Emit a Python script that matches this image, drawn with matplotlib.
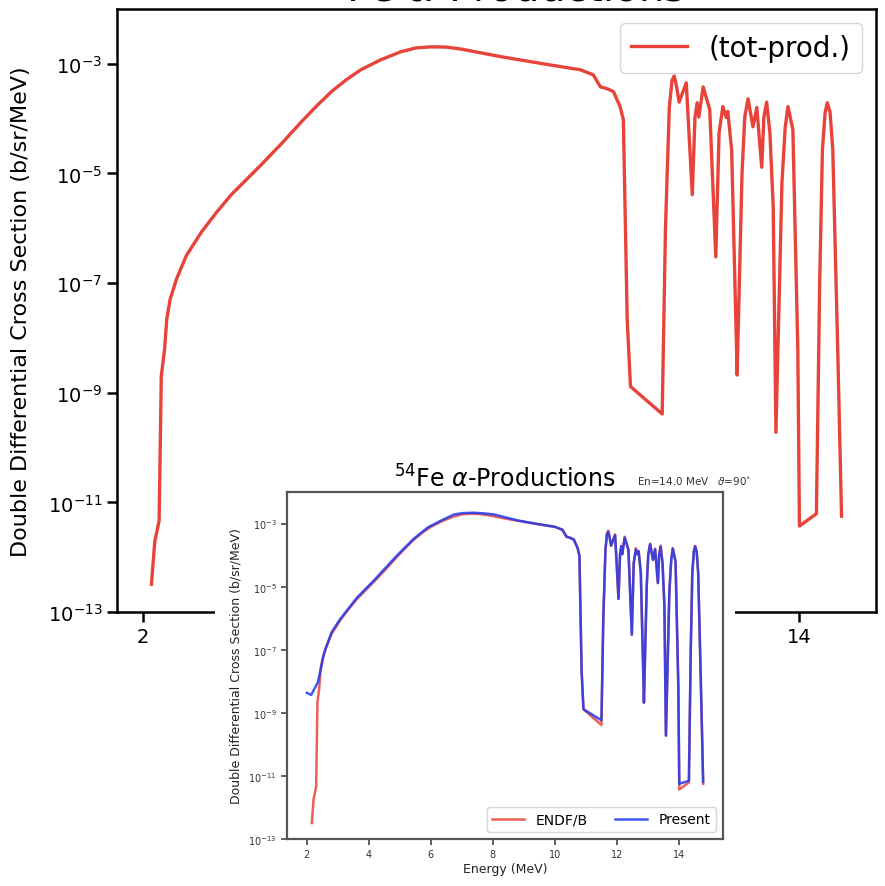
import matplotlib
matplotlib.use('Agg')
import matplotlib.pyplot as plt
from matplotlib.patches import Rectangle

# ---------------- data ----------------
energy_endf = [2.16, 2.22, 2.30, 2.32, 2.34, 2.40, 2.44, 2.50, 2.62, 2.80, 3.08, 3.35,
               3.62, 3.90, 4.17, 4.55, 4.90, 5.18, 5.45, 5.72, 5.99, 6.35, 6.72, 7.00,
               7.27, 7.55, 7.82, 8.55, 9.46, 10.00, 10.24, 10.37, 10.50, 10.61, 10.73,
               10.79, 10.86, 10.92, 11.50, 11.56, 11.63, 11.68, 11.72, 11.76, 11.81,
               11.94, 11.99, 12.05, 12.10, 12.14, 12.17, 12.25, 12.37, 12.48, 12.54,
               12.61, 12.67, 12.70, 12.77, 12.86, 12.87, 12.96, 13.01, 13.07, 13.16,
               13.23, 13.32, 13.36, 13.41, 13.47, 13.53, 13.58, 13.69, 13.75, 13.80,
               13.89, 13.98, 14.01, 14.32, 14.38, 14.43, 14.48, 14.52, 14.57, 14.62,
               14.71, 14.78]
xs_endf = [3.2e-13, 1.9e-12, 4.6e-12, 9.3e-11, 2.0e-9, 6.2e-9, 2.2e-8, 5.0e-8, 1.2e-7,
           3.2e-7, 8.7e-7, 1.95e-6, 4.1e-6, 7.8e-6, 1.45e-5, 3.6e-5, 8.7e-5, 1.7e-4,
           3.1e-4, 5.1e-4, 7.8e-4, 1.18e-3, 1.66e-3, 1.95e-3, 2.04e-3, 2.02e-3, 1.86e-3,
           1.35e-3, 9.5e-4, 7.8e-4, 6.3e-4, 3.8e-4, 3.5e-4, 3.1e-4, 1.66e-4, 9.5e-5,
           2.2e-8, 1.3e-9, 4.1e-10, 1.0e-6, 1.6e-4, 5.0e-4, 6.0e-4, 4.0e-4, 2.0e-4,
           4.5e-4, 5.5e-5, 4.1e-6, 1.07e-4, 1.95e-4, 1.07e-4, 3.8e-4, 1.45e-4, 3.0e-7,
           5.5e-5, 1.66e-4, 1.05e-4, 1.35e-4, 2.7e-5, 6.2e-9, 2.1e-9, 1.0e-5, 1.07e-4,
           2.3e-4, 7.1e-5, 1.6e-4, 1.3e-5, 1.07e-4, 2.0e-4, 5.5e-5, 2.5e-6, 1.9e-10,
           6.8e-6, 7.0e-5, 1.66e-4, 6.3e-5, 6.2e-9, 3.7e-12, 6.2e-12, 1.0e-7, 2.7e-5,
           1.3e-4, 1.95e-4, 1.3e-4, 2.7e-5, 6.2e-9, 5.6e-12]

energy_present = [2.00, 2.14, 2.36, 2.56, 2.80, 3.08, 3.62, 4.17, 4.90, 5.45, 5.90, 6.30,
                  6.75, 7.05, 7.39, 7.70, 8.03, 8.79, 9.46, 10.00, 10.24, 10.37, 10.50,
                  10.61, 10.73, 10.79, 10.86, 10.92, 11.50, 11.56, 11.63, 11.68, 11.72,
                  11.76, 11.81, 11.94, 11.99, 12.05, 12.10, 12.14, 12.17, 12.25, 12.37,
                  12.48, 12.54, 12.61, 12.67, 12.70, 12.77, 12.86, 12.87, 12.96, 13.01,
                  13.07, 13.16, 13.23, 13.32, 13.36, 13.41, 13.47, 13.53, 13.58, 13.69,
                  13.75, 13.80, 13.89, 13.98, 14.01, 14.32, 14.38, 14.43, 14.48, 14.52,
                  14.57, 14.62, 14.71, 14.78]
xs_present = [4.3e-9, 3.7e-9, 9.5e-9, 8.0e-8, 3.6e-7, 9.5e-7, 4.5e-6, 1.6e-5, 9.5e-5,
              3.3e-4, 7.5e-4, 1.2e-3, 1.95e-3, 2.15e-3, 2.2e-3, 2.1e-3, 1.95e-3, 1.26e-3,
              9.6e-4, 7.9e-4, 6.4e-4, 3.9e-4, 3.5e-4, 3.1e-4, 1.7e-4, 9.5e-5, 2.2e-8,
              1.3e-9, 5.8e-10, 1.0e-6, 1.5e-4, 4.6e-4, 5.3e-4, 3.8e-4, 2.0e-4, 4.3e-4,
              5.5e-5, 4.1e-6, 1.07e-4, 1.9e-4, 1.07e-4, 3.6e-4, 1.45e-4, 3.0e-7, 5.5e-5,
              1.5e-4, 1.05e-4, 1.3e-4, 2.7e-5, 6.2e-9, 2.1e-9, 1.0e-5, 1.07e-4, 2.2e-4,
              7.1e-5, 1.5e-4, 1.3e-5, 1.0e-4, 1.8e-4, 5.5e-5, 2.5e-6, 1.9e-10, 6.8e-6,
              7.0e-5, 1.6e-4, 6.3e-5, 6.2e-9, 5.6e-12, 7.0e-12, 1.0e-7, 2.7e-5, 1.3e-4,
              1.9e-4, 1.3e-4, 2.7e-5, 6.2e-9, 6.5e-12]

yticks = [1e-13, 1e-11, 1e-9, 1e-7, 1e-5, 1e-3]
xticks = [2, 4, 6, 8, 10, 12, 14]

title = r'$^{54}$Fe $\alpha$-Productions'
ylabel = 'Double Differential Cross Section (b/sr/MeV)'

RED = '#e8433a'
BLUE = '#1f3cf0'

W, H = 885, 887
fig = plt.figure(figsize=(W / 100, H / 100), dpi=100)


def px_axes(l, t, r, b):
    return [l / W, 1 - b / H, (r - l) / W, (b - t) / H]


# ---------------- main axes ----------------
ax = fig.add_axes(px_axes(117, 10, 876, 613))
ax.plot(energy_endf, xs_endf, color=RED, lw=2.4, label='(tot-prod.)')
ax.set_yscale('log')
ax.set_ylim(1e-13, 1e-2)
ax.set_xlim(1.53, 15.41)
ax.set_yticks(yticks)
ax.set_xticks(xticks)
ax.minorticks_off()
ax.tick_params(axis='both', labelsize=14, length=7, width=1.8, color='black')
for s in ax.spines.values():
    s.set_linewidth(1.8)
    s.set_color('black')
ax.set_ylabel(ylabel, fontsize=16, labelpad=12)
ax.set_title(title, fontsize=29, pad=2)
ax.legend(loc='upper right', fontsize=20, handlelength=2.0, framealpha=0.8)

# white background for inset region
fig.add_artist(Rectangle((215 / W, 0), (735 - 215) / W, (887 - 462) / H,
                         transform=fig.transFigure, facecolor='white',
                         edgecolor='none', zorder=2))

# ---------------- inset axes ----------------
axin = fig.add_axes(px_axes(287, 493, 723, 840), zorder=3)
axin.plot(energy_endf, xs_endf, color=RED, lw=1.8, alpha=0.85, label='ENDF/B')
axin.plot(energy_present, xs_present, color=BLUE, lw=1.8, alpha=0.85, label='Present')
axin.set_yscale('log')
axin.set_ylim(1e-13, 1e-2)
axin.set_xlim(1.36, 15.42)
axin.set_yticks(yticks)
axin.set_xticks(xticks)
axin.minorticks_off()
axin.tick_params(axis='both', labelsize=7, length=4, width=1.2, color='#444444',
                 labelcolor='#333333')
for s in axin.spines.values():
    s.set_linewidth(1.6)
    s.set_color('#555555')
axin.set_ylabel(ylabel, fontsize=9, color='#222222')
axin.set_xlabel('Energy (MeV)', fontsize=9, color='#222222', labelpad=2)
axin.set_title(title, fontsize=17, pad=4)
axin.legend(loc='lower right', fontsize=10, ncol=2, handlelength=2.3,
            columnspacing=2.0, framealpha=0.8)

fig.text(637 / W, 1 - 485 / H, r'En=14.0 MeV   $\vartheta$=90$^{\circ}$',
         fontsize=7.5, color='#333333', ha='left', va='baseline', zorder=4)

fig.savefig('out.png', dpi=100)
